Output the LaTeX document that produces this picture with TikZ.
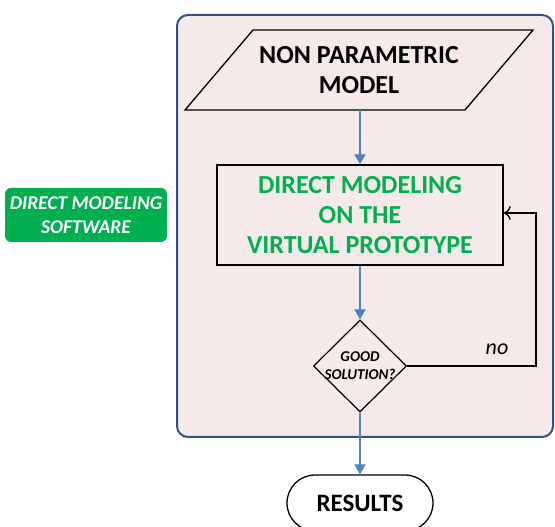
\documentclass[tikz,border=0pt]{standalone}
\usepackage{fontspec}
\setmainfont{Carlito}
\usetikzlibrary{shapes.geometric,arrows.meta}
\definecolor{boxpink}{HTML}{F6E9E9}
\definecolor{boxblue}{HTML}{2F528F}
\definecolor{flowblue}{HTML}{4F81BD}
\definecolor{dmgreen}{HTML}{00B050}
\tikzset{
  x=1pt,y=1pt,
  flow/.style={draw=flowblue,line width=2pt,-{Triangle[length=10pt,width=11pt]}},
  back/.style={draw=black,line width=1.3pt,-{To[length=7pt,width=14pt]}},
  procbox/.style={draw=black,line width=1.4pt,minimum width=286pt,minimum height=100pt,inner sep=0pt},
  decis/.style={diamond,draw=black,line width=1.2pt,minimum width=93pt,minimum height=92pt,inner sep=0pt,fill=boxpink},
  term/.style={draw=black,line width=1.3pt,fill=white,minimum width=146pt,minimum height=56pt,rounded corners=28pt,inner sep=0pt},
  label/.style={font=\bfseries\fontsize{26}{30}\selectfont,align=center},
}
\begin{document}
\begin{tikzpicture}
\useasboundingbox (0,0) rectangle (555,527);
% outer container
\draw[boxblue,line width=2pt,fill=boxpink,rounded corners=11pt] (177,512) rectangle (553,90);
% side label
\node[fill=dmgreen,rounded corners=6pt,minimum width=162pt,minimum height=54pt,inner sep=0pt,text=white,
      font=\bfseries\itshape\fontsize{19.5}{24}\selectfont,align=center] (sw) at (86,312) {DIRECT MODELING\\SOFTWARE};
% parallelogram
\draw[black,line width=1.3pt] (253,497) -- (533,497) -- (465,417) -- (185,417) -- cycle;
\coordinate (pmb) at (360,417);
\node[label] (pm) at (359,457) {NON PARAMETRIC\\MODEL};
% process
\node[procbox] (dm) at (360,312) {};
\node[label,text=dmgreen] (dmt) at (360,312) {DIRECT MODELING\\ON THE\\VIRTUAL PROTOTYPE};
% decision
\node[decis] (gs) at (360,161) {};
\node[font=\bfseries\itshape\fontsize{15}{18}\selectfont,align=center] (gst) at (360,161) {GOOD\\SOLUTION?};
% results
\node[term,font=\bfseries\fontsize{25}{28}\selectfont] (res) at (360,24) {RESULTS};
% connectors
\draw[flow] (pmb) -- (dm.north);
\draw[flow] (dm.south) -- (gs.north);
\draw[flow] (gs.south) -- (res.north);
\coordinate (lp) at (536,161);
\draw[back] (gs.east) -- (lp) |- ([yshift=2pt]dm.east);
\node[font=\itshape\fontsize{22}{24}\selectfont] (no) at (497,178) {no};
\end{tikzpicture}
\end{document}
